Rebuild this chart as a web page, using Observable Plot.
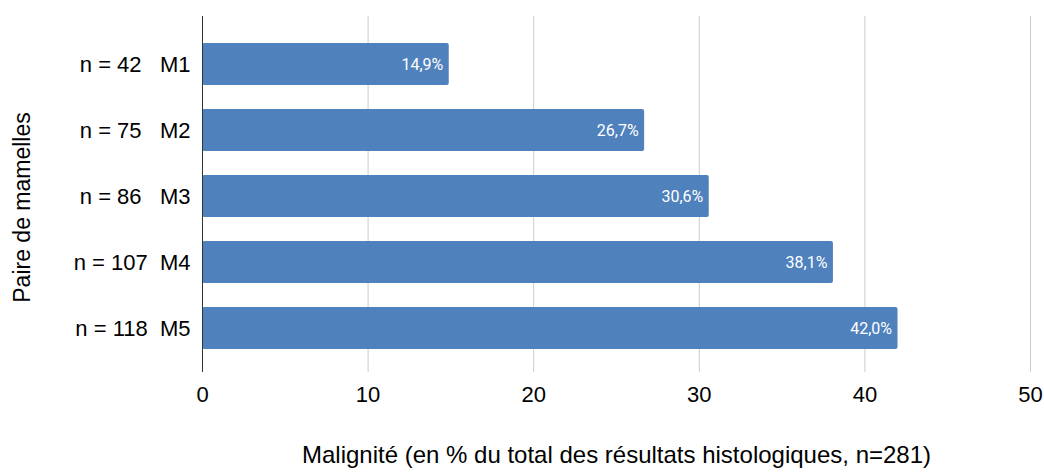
<!DOCTYPE html>
<html>
<head>
<meta charset="utf-8">
<script src="https://cdn.jsdelivr.net/npm/d3@7"></script>
<script src="https://cdn.jsdelivr.net/npm/@observablehq/plot@0.6"></script>
<style>
  body { margin: 0; background: #fff; }
  #chart svg { display: block; }
</style>
</head>
<body>
<div id="chart"></div>
<script>
const groups = ["M1", "M2", "M3", "M4", "M5"];
const counts = [42, 75, 86, 107, 118];
const values = [14.9, 26.7, 30.6, 38.1, 42.0];
const xTicks = [0, 10, 20, 30, 40, 50];
const xTitle = "Malignité (en % du total des résultats histologiques, n=281)";
const yTitle = "Paire de mamelles";

const data = groups.map((g, i) => ({group: g, n: counts[i], value: values[i]}));
const nbsp = "\u00a0";
const tickLabel = g => {
  const i = groups.indexOf(g);
  const n = String(counts[i]);
  const gap = n.length >= 3 ? nbsp + nbsp : nbsp + nbsp + nbsp;
  return "n = " + n + gap + g;
};
const fmt = v => v.toFixed(1).replace(".", ",") + "%";

const chart = Plot.plot({
  width: 1044,
  height: 474,
  marginLeft: 202,
  marginRight: 14,
  marginTop: 16,
  marginBottom: 102,
  style: {fontFamily: "'Liberation Sans', Arial, sans-serif", fontSize: "22px", color: "#000", background: "#fff"},
  x: {domain: [0, 50]},
  y: {domain: groups, paddingInner: 0.37, paddingOuter: 0.185, insetTop: 12.5, insetBottom: 9.5},
  marks: [
    Plot.ruleX(xTicks.filter(t => t > 0), {stroke: "#cccccc", strokeWidth: 1}),
    Plot.barX(data, {x: "value", y: "group", fill: "#4f81bd", rx: 2}),
    Plot.ruleX([0], {stroke: "#333333", strokeWidth: 1}),
    Plot.text(data, {x: "value", y: "group", text: d => fmt(d.value), textAnchor: "end", dx: -6,
      fill: "#ffffff", fontFamily: "Roboto, sans-serif", fontSize: 16}),
    Plot.axisX({ticks: xTicks, tickSize: 0, tickPadding: 14, label: null, fontSize: 22}),
    Plot.axisY({tickSize: 0, tickPadding: 12, tickFormat: tickLabel, label: null, fontSize: 22}),
    Plot.text([xTitle], {text: d => d, frameAnchor: "bottom", textAnchor: "middle", dy: 90, fontSize: 24}),
    Plot.text([yTitle], {text: d => d, frameAnchor: "left", textAnchor: "middle", rotate: -90, dx: -180, dy: 13, fontSize: 23})
  ]
});
document.getElementById("chart").appendChild(chart);
</script>
</body>
</html>
